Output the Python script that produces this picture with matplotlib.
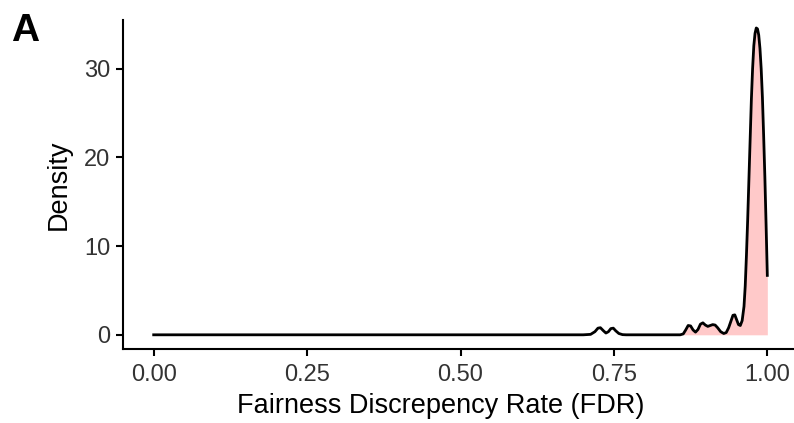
import matplotlib.pyplot as plt
import numpy as np

plt.rcParams['font.family'] = ['Liberation Sans', 'DejaVu Sans']

# density curve (x = FDR, y = density)
fdr = [0.000, 0.700, 0.712, 0.719, 0.724, 0.728, 0.733, 0.737, 0.741, 0.745,
       0.749, 0.753, 0.758, 0.764, 0.770, 0.858, 0.863, 0.867, 0.871, 0.875,
       0.879, 0.883, 0.887, 0.891, 0.895, 0.899, 0.903, 0.907, 0.911, 0.915,
       0.919, 0.924, 0.929, 0.933, 0.937, 0.941, 0.944, 0.947, 0.950, 0.953,
       0.956, 0.959, 0.962, 0.964, 0.966, 0.968, 0.970, 0.972, 0.974, 0.976,
       0.978, 0.980, 0.982, 0.984, 0.986, 0.988, 0.990, 0.992, 0.994, 0.996,
       0.998, 1.000]
density = [0.00, 0.00, 0.05, 0.35, 0.75, 0.80, 0.45, 0.20, 0.35, 0.70,
           0.75, 0.45, 0.15, 0.02, 0.00, 0.00, 0.10, 0.55, 1.05, 1.00,
           0.55, 0.30, 0.60, 1.20, 1.35, 1.10, 0.95, 1.05, 1.15, 1.10,
           0.80, 0.35, 0.15, 0.25, 0.80, 1.60, 2.20, 2.25, 1.70, 1.15,
           1.05, 1.60, 3.20, 5.50, 9.00, 13.0, 17.5, 22.0, 26.5, 30.0,
           32.6, 34.0, 34.6, 34.5, 33.8, 32.3, 30.0, 26.8, 22.5, 17.8,
           12.4, 6.70]
fill_start = 0.865

x_ticks = [0.00, 0.25, 0.50, 0.75, 1.00]
x_labels = ['0.00', '0.25', '0.50', '0.75', '1.00']
y_ticks = [0, 10, 20, 30]

fdr = np.array(fdr)
density = np.array(density)

fig = plt.figure(figsize=(7.94, 4.23), dpi=100)
ax = fig.add_axes([123 / 794, 74 / 423, 675 / 794, 329 / 423])

ax.fill_between(fdr, 0, density, where=fdr >= fill_start, color='#ffc9c9',
                linewidth=0, interpolate=True)
ax.plot(fdr, density, color='black', linewidth=2.0)

ax.set_xlim(-0.05, 1.05)
ax.set_ylim(-1.6, 35.5)
ax.set_xticks(x_ticks)
ax.set_xticklabels(x_labels)
ax.set_yticks(y_ticks)

for side in ['top', 'right']:
    ax.spines[side].set_visible(False)
for side in ['left', 'bottom']:
    ax.spines[side].set_linewidth(1.5)
ax.tick_params(axis='both', length=5, width=1.5, labelsize=17, color='black',
               labelcolor='#333333')
ax.tick_params(axis='x', pad=6)
ax.tick_params(axis='y', pad=4)

ax.set_xlabel('Fairness Discrepency Rate (FDR)', fontsize=19.5)
ax.xaxis.set_label_coords(0.471, -0.133)
ax.set_ylabel('Density', fontsize=19.5, labelpad=9)

fig.text(11 / 794, 1 - 41 / 423, 'A', fontsize=28, fontweight='bold')

plt.savefig('out.png', dpi=100)
